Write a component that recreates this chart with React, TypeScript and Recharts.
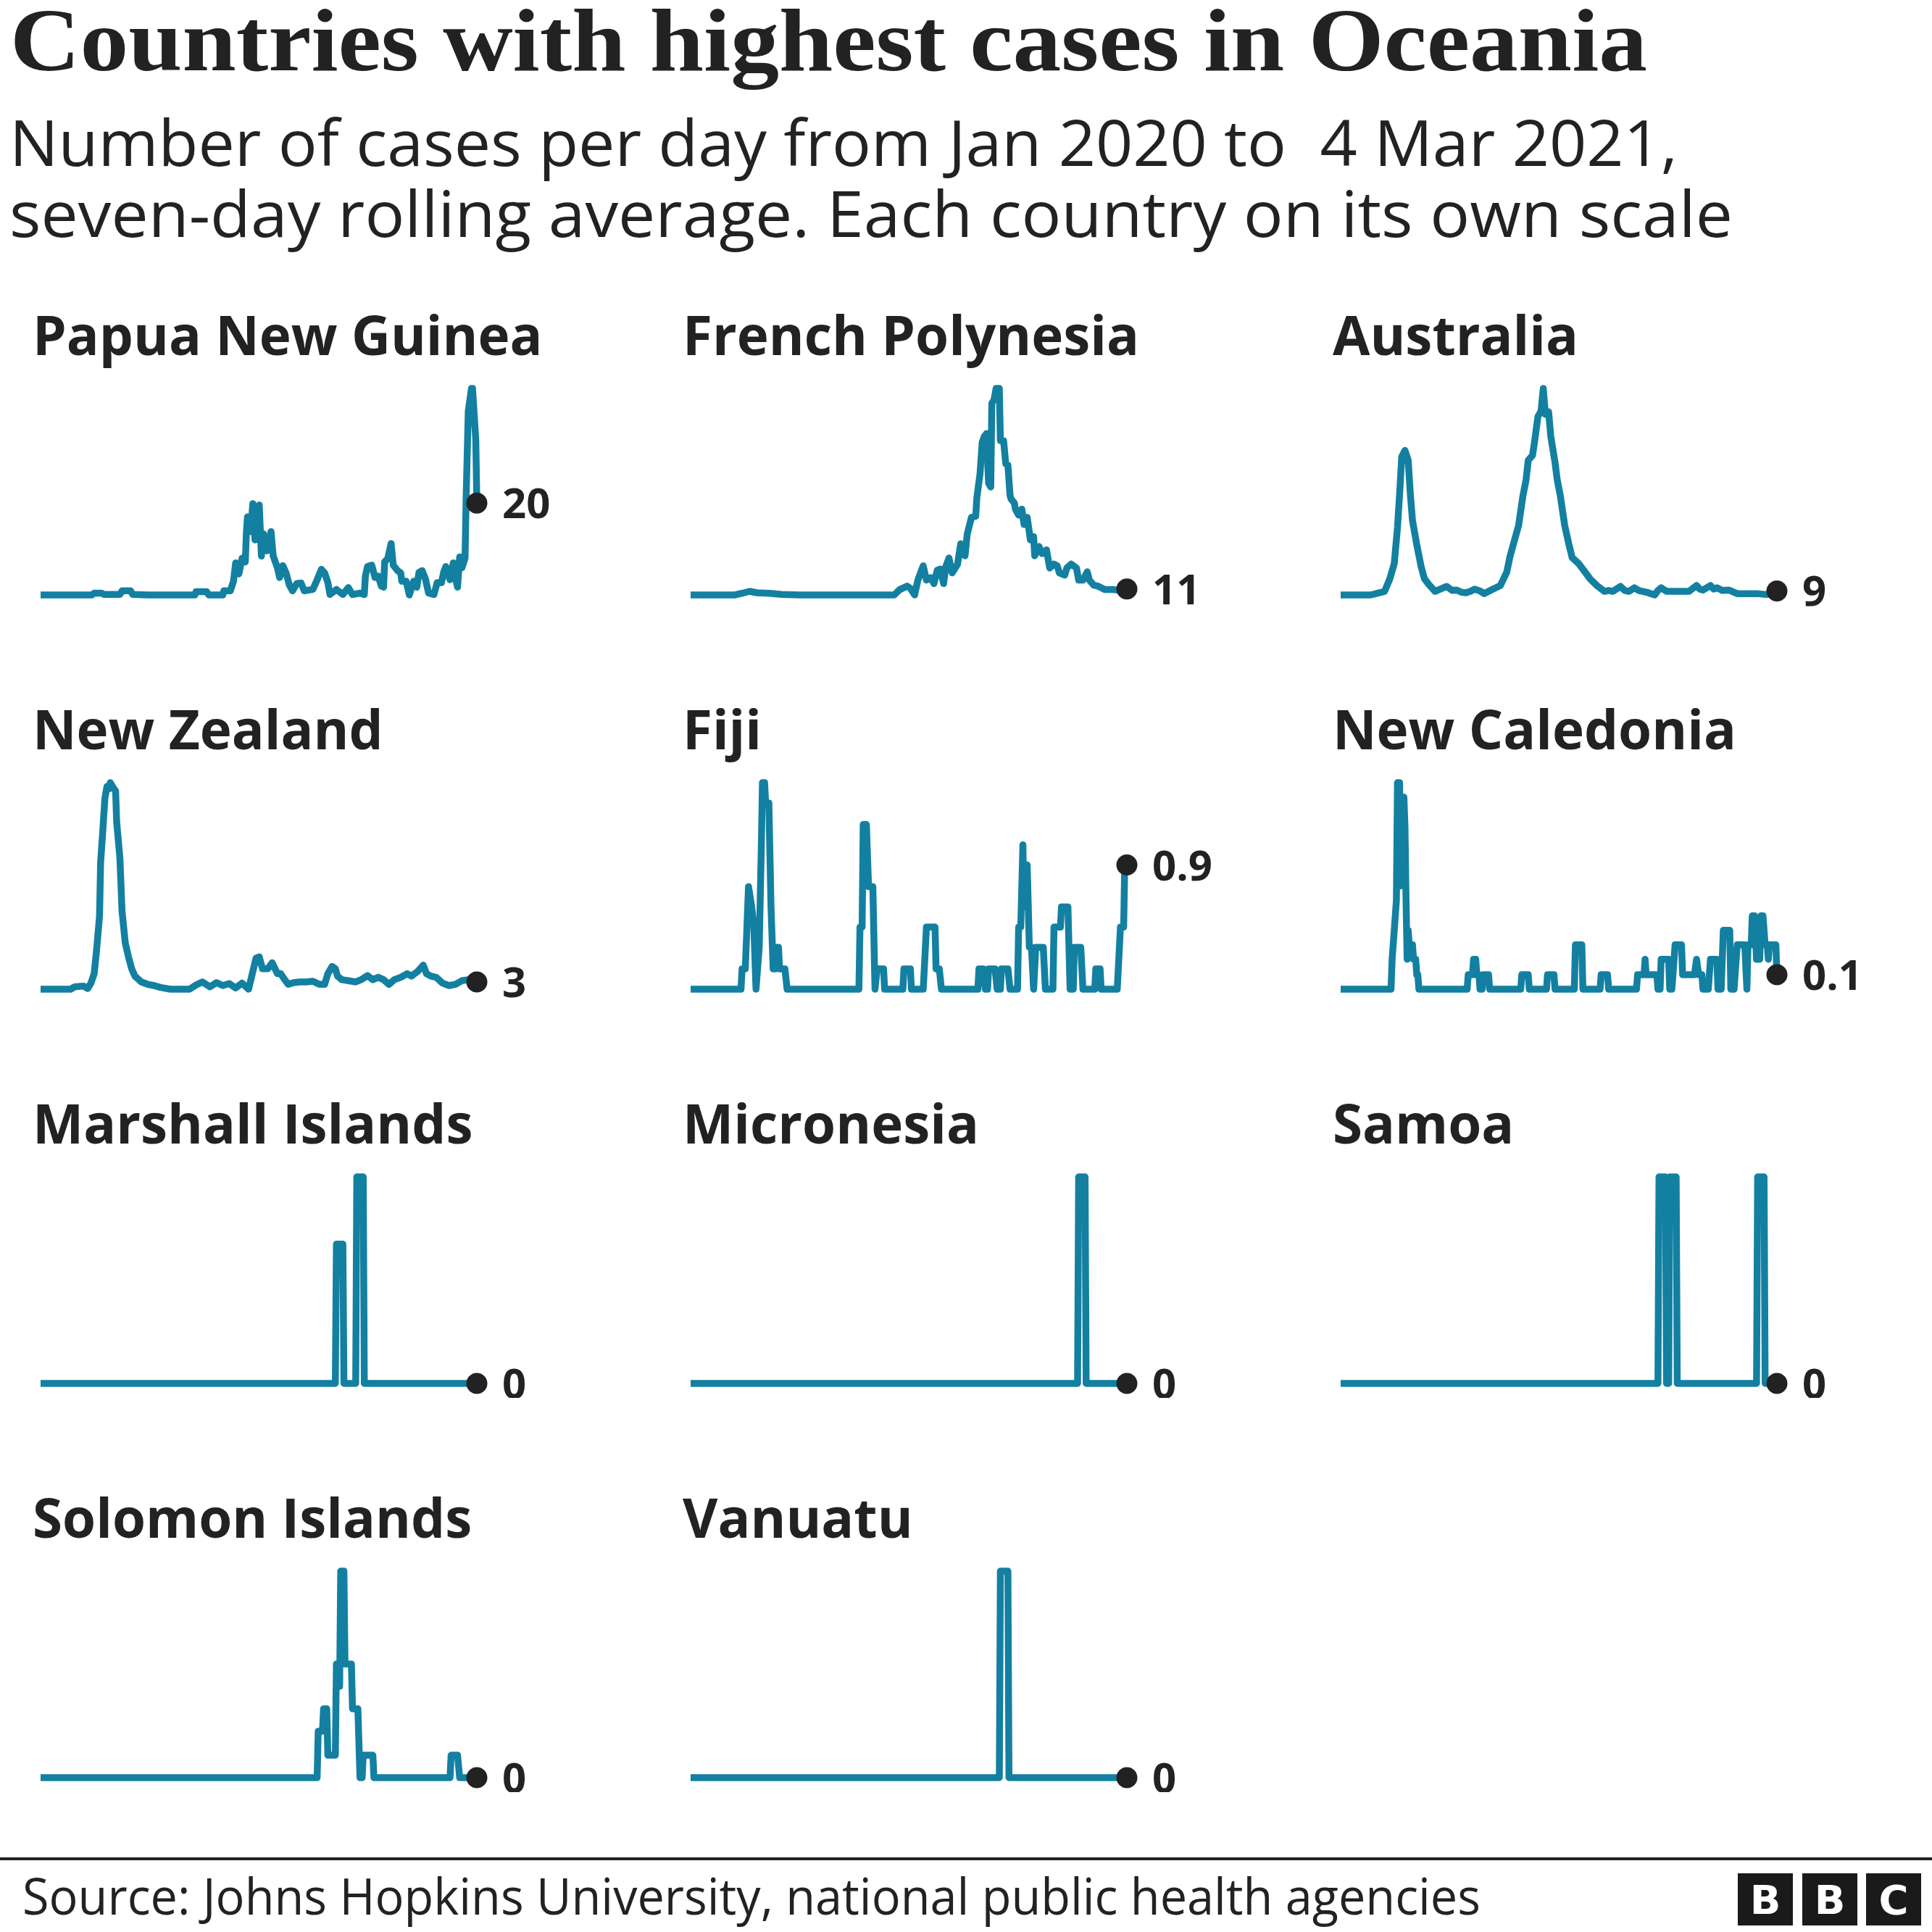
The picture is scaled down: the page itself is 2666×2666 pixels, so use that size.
import React from 'react';
import { LineChart, Line, XAxis, YAxis } from 'recharts';

// ---------- text ----------
const TITLE = 'Countries with highest cases in Oceania';
const SUBTITLE_LINES = [
  'Number of cases per day from Jan 2020 to  4 Mar 2021,',
  'seven-day rolling average. Each country on its own scale',
];
const SOURCE = 'Source: Johns Hopkins University, national public health agencies';
const LOGO_LETTERS = ['B', 'B', 'C'];

// ---------- data: [day since 22 Jan 2020, seven-day average cases] ----------
const LAST_DAY = 407; // 4 Mar 2021

const COUNTRIES = [
  'Papua New Guinea', 'French Polynesia', 'Australia',
  'New Zealand', 'Fiji', 'New Caledonia',
  'Marshall Islands', 'Micronesia', 'Samoa',
  'Solomon Islands', 'Vanuatu',
];

const PAPUA_NEW_GUINEA: [number, number][] = [
  [0, 0], [48, 0], [50, 0.4], [57, 0.4], [59, 0.1], [74, 0.1], [76, 0.9], [84, 0.9], [86, 0.1], [100, 0],
  [144, 0], [145, 0.7], [155, 0.7], [157, 0], [170, 0], [171, 0.9], [177, 0.9], [180, 3.0], [182, 7.0],
  [185, 4.6], [188, 8.0], [191, 7.2], [192, 13.5], [193, 17], [196, 13.8], [198, 19.9], [200, 12],
  [202, 17.4], [204, 19.6], [206, 8.5], [208, 13.3], [211, 9.6], [215, 13.8], [217, 8.5], [221, 5.9],
  [223, 3.8], [226, 6.4], [229, 4.8], [232, 2.2], [235, 0.9], [239, 2.5], [243, 2.6], [246, 0.9],
  [254, 1.2], [258, 3.3], [262, 5.6], [265, 4.8], [268, 2.7], [270, 0.1], [276, 1.2], [282, 0.1],
  [287, 1.6], [291, 0.1], [298, 0.4], [302, 0.1], [303, 4.1], [305, 6.2], [309, 6.5], [312, 3.8],
  [315, 4.1], [318, 1.9], [320, 1.7], [321, 7.2], [324, 8.0], [327, 11.2], [329, 6.5], [333, 5.3],
  [336, 4.8], [337, 3.0], [341, 3.0], [344, 0], [348, 3.0], [351, 1.7], [353, 4.9], [356, 5.3],
  [359, 3.5], [362, 0.4], [367, 0.1], [370, 2.7], [374, 2.7], [376, 4.9], [378, 6.2], [382, 3.3],
  [385, 7.0], [388, 2.7], [389, 1.7], [391, 8.3], [393, 5.9], [396, 8.0], [397, 21], [399, 40],
  [402, 45], [403, 45], [406, 33.8], [407, 20],
];

const FRENCH_POLYNESIA: [number, number][] = [
  [0, 0], [41, 0], [48, 3], [55, 6.6], [62, 4], [74, 3], [85, 1], [102, 0], [190, 0], [195, 9.7],
  [202, 16], [205, 11.9], [209, 0], [212, 27], [217, 53], [220, 27], [224, 31.6], [227, 20.6],
  [230, 44.7], [233, 47], [236, 20.6], [238, 51], [241, 67], [244, 40], [249, 55.7], [252, 93],
  [256, 71], [258, 110], [262, 141], [266, 143], [267, 176], [270, 220], [272, 277], [274, 288],
  [276, 293], [278, 203], [280, 196], [281, 348], [283, 354], [285, 375], [288, 375], [289, 280],
  [292, 280], [294, 238], [296, 236], [298, 181], [299, 174], [302, 167], [303, 156], [306, 145],
  [309, 156], [311, 128], [314, 141], [317, 100], [320, 106], [321, 71], [325, 88], [328, 75],
  [332, 82], [335, 49], [339, 56], [342, 53], [344, 40], [349, 36], [351, 49], [355, 56], [360, 49],
  [362, 27], [366, 27], [370, 42], [372, 27], [376, 18], [380, 16], [386, 10], [394, 10], [400, 8],
  [405, 10], [407, 11],
];

const AUSTRALIA: [number, number][] = [
  [0, 0], [28, 0], [33, 3], [41, 8], [46, 37], [50, 70], [53, 150], [55, 225], [57, 308], [60, 322],
  [63, 300], [65, 225], [67, 166], [71, 112], [75, 64], [78, 37], [82, 24], [88, 8], [93, 13],
  [99, 19], [104, 10], [108, 11], [113, 6], [117, 5], [121, 8], [125, 13], [130, 9], [134, 3],
  [138, 8], [142, 13], [149, 21], [155, 51], [158, 86], [163, 129], [166, 155], [170, 220],
  [173, 257], [175, 300], [179, 311], [181, 343], [184, 397], [187, 410], [189, 460], [191, 402],
  [194, 408], [196, 354], [200, 295], [202, 257], [205, 220], [209, 155], [213, 112], [216, 83],
  [222, 70], [228, 51], [233, 35], [239, 21], [246, 8], [250, 10], [254, 8], [261, 19], [265, 10],
  [269, 8], [274, 16], [278, 10], [282, 8], [287, 5], [293, 0], [296, 10], [299, 16], [304, 8],
  [310, 8], [315, 8], [320, 8], [325, 8], [332, 21], [335, 13], [338, 11], [345, 21], [348, 13],
  [351, 16], [356, 10], [362, 11], [370, 3], [380, 3], [388, 3], [397, 1], [402, 5], [407, 9],
];

const NEW_ZEALAND: [number, number][] = [
  [0, 0], [28, 0], [32, 1], [40, 1.3], [44, 0.3], [47, 2.5], [50, 6.4], [52, 15], [55, 30], [56, 52],
  [58, 65], [60, 78.5], [62, 83.5], [64, 82.5], [65, 85], [67, 83.5], [70, 81.5], [71, 68.7], [74, 54],
  [76, 32], [79, 19], [82, 13.3], [85, 8.4], [88, 5.4], [94, 3], [100, 2], [106, 1.5], [112, 0.7],
  [121, 0], [139, 0], [145, 1.7], [151, 3], [158, 1], [164, 2.7], [170, 1.5], [176, 2.3], [182, 0.5],
  [188, 2.5], [194, 0], [197, 5.4], [201, 12.8], [204, 13.3], [207, 8.4], [212, 8.4], [216, 10.9],
  [221, 6.4], [224, 6.4], [227, 4.4], [231, 2], [236, 2.7], [242, 3], [248, 3], [254, 3.3], [260, 2],
  [265, 2], [268, 6.4], [272, 9.4], [275, 8.4], [277, 5.4], [281, 3.9], [287, 3.5], [294, 3],
  [299, 3.9], [305, 5.6], [310, 3.9], [315, 4.9], [320, 3.9], [325, 2], [330, 3.9], [336, 4.9],
  [342, 6.4], [346, 5.4], [349, 6.4], [352, 7.4], [357, 9.9], [360, 6.4], [364, 5.4], [369, 4.9],
  [375, 2.5], [381, 1.5], [387, 2], [393, 3.5], [399, 3.9], [407, 3],
];

const FIJI: [number, number][] = [
  [0, 0], [47, 0], [48, 0.14], [51, 0.14], [54, 0.71], [57, 0.57], [59, 0.43], [61, 0], [64, 0.29],
  [66, 1.0], [67, 1.43], [69, 1.43], [70, 1.29], [73, 1.29], [75, 0.57], [77, 0.14], [79, 0.14],
  [80, 0.29], [82, 0.29], [83, 0.14], [88, 0.14], [90, 0], [157, 0], [158, 0.43], [160, 0.43],
  [161, 1.14], [164, 1.14], [166, 0.71], [170, 0.71], [172, 0], [174, 0.14], [180, 0.14], [181, 0],
  [198, 0], [199, 0.14], [205, 0.14], [206, 0], [217, 0], [218, 0.14], [220, 0.43], [228, 0.43],
  [229, 0.14], [232, 0.14], [234, 0], [268, 0], [269, 0.14], [273, 0.14], [275, 0], [277, 0],
  [278, 0.14], [284, 0.14], [286, 0], [289, 0], [290, 0.14], [296, 0.14], [298, 0], [305, 0],
  [306, 0.43], [308, 0.43], [310, 1.0], [311, 0.57], [312, 0.86], [314, 0.86], [316, 0.29],
  [318, 0.29], [320, 0], [322, 0.29], [329, 0.29], [331, 0], [338, 0], [339, 0.43], [345, 0.43],
  [346, 0.57], [352, 0.57], [354, 0], [357, 0], [358, 0.29], [364, 0.29], [366, 0], [377, 0],
  [378, 0.14], [382, 0.14], [383, 0], [398, 0], [399, 0.14], [401, 0.43], [404, 0.43], [405, 0.86],
  [407, 0.86],
];

const NEW_CALEDONIA: [number, number][] = [
  [0, 0], [47, 0], [48, 0.29], [50, 0.57], [52, 0.86], [53, 2.0], [55, 2.0], [56, 1.0], [57, 1.86],
  [59, 1.86], [60, 1.57], [61, 0.86], [62, 0.29], [63, 0.57], [64, 0.43], [67, 0.43], [68, 0.29],
  [70, 0.29], [71, 0.14], [72, 0.14], [73, 0], [118, 0], [119, 0.14], [123, 0.14], [124, 0.29],
  [126, 0.29], [127, 0.14], [129, 0.14], [130, 0], [132, 0], [133, 0.14], [138, 0.14], [139, 0],
  [168, 0], [169, 0.14], [175, 0.14], [176, 0], [192, 0], [193, 0.14], [199, 0.14], [200, 0],
  [218, 0], [219, 0.43], [225, 0.43], [226, 0], [242, 0], [243, 0.14], [249, 0.14], [250, 0],
  [276, 0], [277, 0.14], [283, 0.14], [284, 0.29], [285, 0.14], [295, 0.14], [296, 0], [298, 0],
  [299, 0.29], [306, 0.29], [307, 0], [309, 0], [310, 0.14], [312, 0.43], [318, 0.43], [319, 0.14],
  [330, 0.14], [332, 0.29], [334, 0.14], [337, 0.14], [338, 0], [343, 0], [345, 0.29], [351, 0.29],
  [352, 0], [355, 0], [357, 0.57], [363, 0.57], [364, 0], [367, 0], [370, 0.43], [377, 0.43],
  [379, 0], [380, 0.43], [383, 0.43], [384, 0.71], [386, 0.71], [388, 0.29], [391, 0.29],
  [392, 0.71], [394, 0.71], [396, 0.43], [398, 0.43], [399, 0.29], [400, 0.43], [406, 0.43],
  [407, 0.14],
];

const MARSHALL_ISLANDS: [number, number][] = [
  [0, 0], [275, 0], [276, 0.29], [282, 0.29], [283, 0], [294, 0], [295, 0.43], [301, 0.43], [302, 0],
  [407, 0],
];

const MICRONESIA: [number, number][] = [
  [0, 0], [361, 0], [362, 0.14], [368, 0.14], [369, 0], [407, 0],
];

const SAMOA: [number, number][] = [
  [0, 0], [296, 0], [297, 0.14], [303, 0.14], [304, 0], [306, 0], [307, 0.14], [313, 0.14], [314, 0],
  [388, 0], [389, 0.14], [395, 0.14], [396, 0], [407, 0],
];

const SOLOMON_ISLANDS: [number, number][] = [
  [0, 0], [258, 0], [259, 0.29], [263, 0.29], [264, 0.43], [267, 0.43], [268, 0.14], [275, 0.14],
  [276, 0.71], [278, 0.71], [279, 0.57], [280, 1.29], [283, 1.29], [284, 0.71], [290, 0.71],
  [291, 0.43], [296, 0.43], [298, 0], [300, 0], [301, 0.14], [310, 0.14], [311, 0], [382, 0],
  [383, 0.14], [389, 0.14], [391, 0], [407, 0],
];

const VANUATU: [number, number][] = [
  [0, 0], [288, 0], [289, 0.14], [296, 0.14], [297, 0], [407, 0],
];

const SERIES = [
  PAPUA_NEW_GUINEA, FRENCH_POLYNESIA, AUSTRALIA,
  NEW_ZEALAND, FIJI, NEW_CALEDONIA,
  MARSHALL_ISLANDS, MICRONESIA, SAMOA,
  SOLOMON_ISLANDS, VANUATU,
];

// ---------- layout / style ----------
const W = 2666;
const H = 2666;
const TEAL = '#1380A1';
const INK = '#222222';
const SANS = '"Open Sans", "Noto Sans", sans-serif';
const SERIF = '"Liberation Serif", "DejaVu Serif", serif';
const COL_X = [56, 953, 1850];
const ROW_ZERO = [821, 1365, 1909, 2453];
const PLOT_W = 602;
const PLOT_H = 285;
const M = { top: 20, right: 170, bottom: 20, left: 10 };

function fmt(v: number): string {
  if (v === 0) return '0';
  if (v >= 1) return String(Math.round(v));
  return v.toFixed(1);
}

function Panel({ series, col, row }: { series: [number, number][]; col: number; row: number }) {
  const data = series.map(([day, value]) => ({ day, value }));
  const last = data.length - 1;
  const x0 = COL_X[col];
  const zero = ROW_ZERO[row];
  const renderDot = (p: any) => {
    const { cx, cy, index } = p;
    if (index !== last) return <g key={`d${index}`} />;
    return (
      <g key={`d${index}`}>
        <circle cx={cx} cy={cy} r={14.5} fill={INK} />
        <text x={cx + 35} y={cy + 21} fill={INK} fontFamily={SANS} fontWeight={700} fontSize={58}>
          {fmt(data[last].value)}
        </text>
      </g>
    );
  };
  return (
    <div style={{ position: 'absolute', left: x0 - M.left, top: zero - PLOT_H - M.top }}>
      <LineChart
        width={PLOT_W + M.left + M.right}
        height={PLOT_H + M.top + M.bottom}
        data={data}
        margin={M}
        style={{ overflow: 'visible' }}
      >
        <XAxis dataKey="day" type="number" domain={[0, LAST_DAY]} hide height={0} />
        <YAxis type="number" domain={[0, 'dataMax']} hide width={0} />
        <Line
          type="linear"
          dataKey="value"
          stroke={TEAL}
          strokeWidth={9.5}
          strokeLinejoin="round"
          dot={renderDot}
          activeDot={false}
          isAnimationActive={false}
        />
      </LineChart>
    </div>
  );
}

export default function App() {
  const logoX = [2398, 2487, 2575];
  return (
    <div style={{ position: 'absolute', left: 0, top: 0, width: W, height: H, background: '#fff', overflow: 'hidden' }}>
      <svg width={W} height={H} style={{ position: 'absolute', left: 0, top: 0 }}>
        <text x={14} y={97} fill={INK} fontFamily={SERIF} fontWeight={700} fontSize={122}
          textLength={2259} lengthAdjust="spacingAndGlyphs">{TITLE}</text>
        <text x={13} y={229} fill={INK} fontFamily={SANS} fontWeight={400} fontSize={88}
          textLength={2302} lengthAdjust="spacingAndGlyphs" style={{ whiteSpace: 'pre' }}>{SUBTITLE_LINES[0]}</text>
        <text x={13} y={327} fill={INK} fontFamily={SANS} fontWeight={400} fontSize={88}
          textLength={2378} lengthAdjust="spacingAndGlyphs">{SUBTITLE_LINES[1]}</text>
        {COUNTRIES.map((name, i) => (
          <text key={name} x={COL_X[i % 3] - 11} y={ROW_ZERO[Math.floor(i / 3)] - 331} fill={INK}
            fontFamily={SANS} fontWeight={700} fontSize={74.5}>{name}</text>
        ))}
        <rect x={0} y={2563} width={W} height={4} fill={INK} />
        <text x={31} y={2642} fill={INK} fontFamily={SANS} fontWeight={400} fontSize={70}
          textLength={2012} lengthAdjust="spacingAndGlyphs">{SOURCE}</text>
        {LOGO_LETTERS.map((l, i) => (
          <g key={i}>
            <rect x={logoX[i]} y={2585} width={76} height={72} fill="#1a1a1a" />
            <text x={logoX[i] + 38} y={2641} textAnchor="middle" fill="#fff"
              fontFamily='"DejaVu Sans", sans-serif' fontWeight={700} fontSize={56}>{l}</text>
          </g>
        ))}
      </svg>
      {SERIES.map((s, i) => (
        <Panel key={i} series={s} col={i % 3} row={Math.floor(i / 3)} />
      ))}
    </div>
  );
}
